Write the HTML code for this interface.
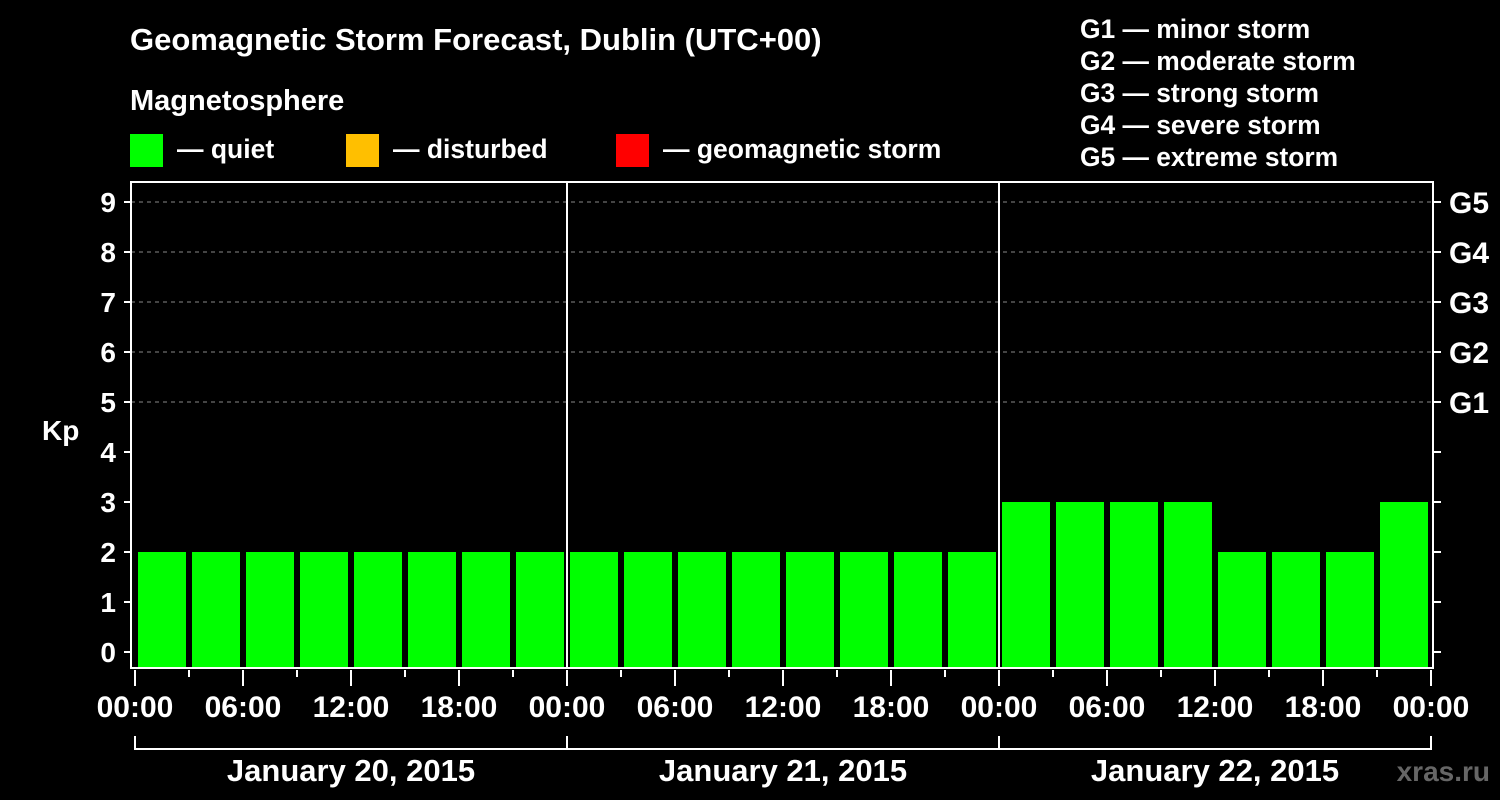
<!DOCTYPE html>
<html><head><meta charset="utf-8"><style>
body{margin:0;background:#000;}
svg{display:block;font-family:"Liberation Sans",Arial,sans-serif;font-weight:bold;}
</style></head><body>
<svg id="chart" width="1500" height="800" xmlns="http://www.w3.org/2000/svg">
<rect width="1500" height="800" fill="#000"/>
<text x="130" y="50" fill="#fff" font-size="31">Geomagnetic Storm Forecast, Dublin (UTC+00)</text>
<text x="130" y="110" fill="#fff" font-size="29">Magnetosphere</text>
<g><rect x="130" y="134" width="33" height="33" fill="#00ff00"/><text x="177" y="158" fill="#fff" font-size="26.5">— quiet</text></g>
<g><rect x="346" y="134" width="33" height="33" fill="#ffbf00"/><text x="393" y="158" fill="#fff" font-size="26.5">— disturbed</text></g>
<g><rect x="616" y="134" width="33" height="33" fill="#ff0000"/><text x="663" y="158" fill="#fff" font-size="26.5">— geomagnetic storm</text></g>
<g fill="#fff" font-size="26.4">
<text x="1080" y="38">G1 — minor storm</text>
<text x="1080" y="70">G2 — moderate storm</text>
<text x="1080" y="102">G3 — strong storm</text>
<text x="1080" y="134">G4 — severe storm</text>
<text x="1080" y="166">G5 — extreme storm</text>
</g>
<text x="42" y="440" fill="#fff" font-size="28">Kp</text>
<text x="1490" y="781" fill="#666" font-size="28" text-anchor="end">xras.ru</text>
<g id="plot"></g>
</svg>
<script>
const kpValues=[2,2,2,2,2,2,2,2, 2,2,2,2,2,2,2,2, 3,3,3,3,2,2,2,3];
const yTicks=[0,1,2,3,4,5,6,7,8,9];
const gLabels=["G1","G2","G3","G4","G5"];
const gLevels=[5,6,7,8,9];
const xTickLabels=["00:00","06:00","12:00","18:00","00:00","06:00","12:00","18:00","00:00","06:00","12:00","18:00","00:00"];
const dayLabels=["January 20, 2015","January 21, 2015","January 22, 2015"];
const NS="http://www.w3.org/2000/svg";
const g=document.getElementById('plot');
const X=h=>135+18*h;
const Y=v=>652-50*v;
const L=131,R=1433,T=182,B=668;
function el(t,a){const e=document.createElementNS(NS,t);for(const k in a)e.setAttribute(k,a[k]);g.appendChild(e);return e;}
yTicks.forEach(v=>{if(v>=5){const e=el('line',{x1:L,x2:R,y1:Y(v),y2:Y(v),stroke:'#888','stroke-dasharray':'4,4','stroke-width':1});

}});
kpValues.forEach((v,i)=>{const color=v>=5?'#ff0000':(v>=4?'#ffbf00':'#00ff00');
const e=el('rect',{x:X(3*i)+3,y:Y(v),width:X(3*i+3)-X(3*i)-6,height:B-Y(v),fill:color});

});
const fr=el('rect',{x:L,y:T,width:R-L,height:B-T,fill:'none',stroke:'#fff','stroke-width':2});


[24,48].forEach(h=>{const e=el('line',{x1:X(h),x2:X(h),y1:T,y2:B,stroke:'#fff','stroke-width':2});

});
yTicks.forEach(v=>{el('line',{x1:124,x2:L,y1:Y(v),y2:Y(v),stroke:'#fff','stroke-width':2});
el('line',{x1:R,x2:1441,y1:Y(v),y2:Y(v),stroke:'#fff','stroke-width':2});
const t=el('text',{x:116,y:Y(v)+10,fill:'#fff','font-size':28,'text-anchor':'end'});t.textContent=v;

});
gLevels.forEach((v,i)=>{const t=el('text',{x:1449,y:Y(v)+11,fill:'#fff','font-size':30});t.textContent=gLabels[i];

});
for(let h=0;h<=72;h+=3){const major=h%6===0;el('line',{x1:X(h),x2:X(h),y1:670,y2:major?686:677,stroke:'#fff','stroke-width':2});}
xTickLabels.forEach((s,i)=>{const t=el('text',{x:X(6*i),y:717,fill:'#fff','font-size':30,'text-anchor':'middle'});t.textContent=s;

});
el('line',{x1:X(0),x2:X(72),y1:749,y2:749,stroke:'#fff','stroke-width':2});
for(let d=0;d<=3;d++)el('line',{x1:X(24*d),x2:X(24*d),y1:736,y2:750,stroke:'#fff','stroke-width':2});
dayLabels.forEach((s,i)=>{const t=el('text',{x:X(24*i+12),y:781,fill:'#fff','font-size':31,'text-anchor':'middle'});t.textContent=s;

});
</script>
</body></html>
